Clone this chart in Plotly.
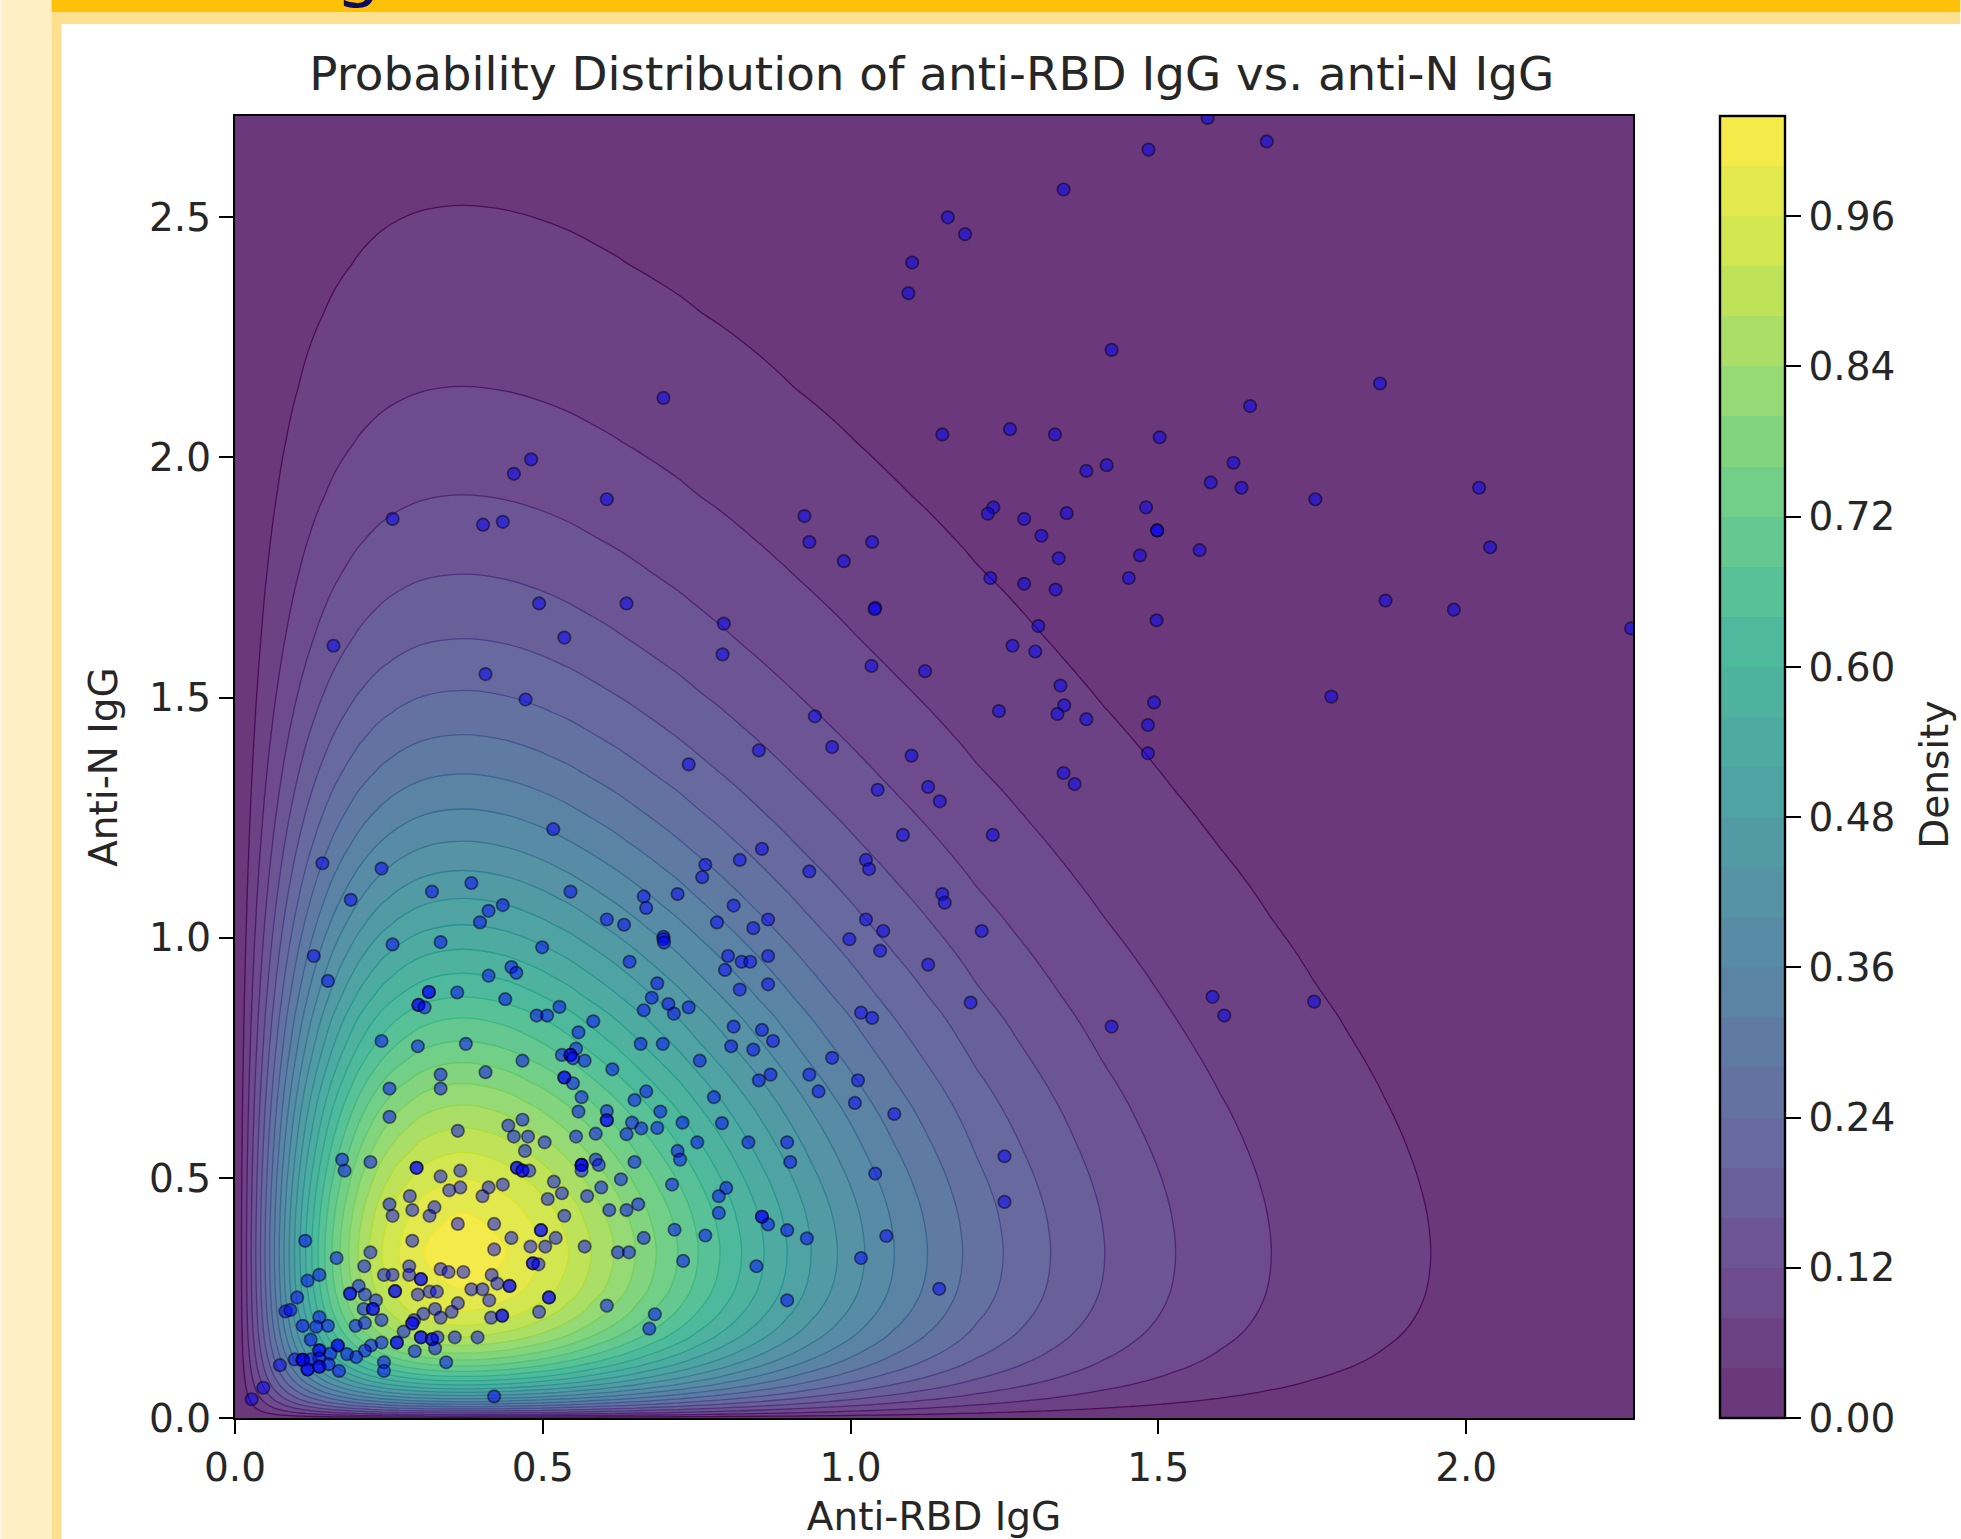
import plotly.graph_objects as go

# Density profile read along the row through the mode (Anti-N = 0.34): x position, density
profile_x = [0.0, 0.0105, 0.0187, 0.0264, 0.0339, 0.0414, 0.0488, 0.0564, 0.064, 0.0719, 0.0797, 0.0881, 0.0966,
             0.1055, 0.1147, 0.1247, 0.135, 0.146, 0.1576, 0.1707, 0.185, 0.2, 0.218, 0.2387, 0.2664, 0.307, 0.37,
             0.44, 0.4977, 0.542, 0.579, 0.616, 0.6505, 0.6845, 0.7197, 0.7526, 0.788, 0.823, 0.8595, 0.897,
             0.936, 0.9787, 1.023, 1.071, 1.125, 1.182, 1.205, 1.248, 1.28, 1.325, 1.365, 1.413, 1.465, 1.528, 1.6,
             1.6835, 1.75, 1.8, 1.87, 1.9425, 2.0, 2.1, 2.28]
profile_x_density = [0.0, 0.04, 0.08, 0.12, 0.16, 0.20, 0.24, 0.28, 0.32, 0.36, 0.40, 0.44, 0.48, 0.52, 0.56, 0.60,
                     0.64, 0.68, 0.72, 0.76, 0.80, 0.84, 0.88, 0.92, 0.96, 1.00, 1.02, 1.00, 0.96, 0.92, 0.88, 0.84,
                     0.80, 0.76, 0.72, 0.68, 0.64, 0.60, 0.56, 0.52, 0.48, 0.44, 0.40, 0.36, 0.32, 0.28, 0.264, 0.24,
                     0.2226, 0.20, 0.181, 0.16, 0.141, 0.12, 0.0997, 0.08, 0.067, 0.059, 0.049, 0.04, 0.034, 0.026, 0.016]
# Density profile read along the column through the mode (Anti-RBD = 0.37): y position, density
profile_y = [0.0, 0.0016, 0.0041, 0.0072, 0.0107, 0.0147, 0.019, 0.0237, 0.0288, 0.0343, 0.0401, 0.0465, 0.0535,
             0.0608, 0.0686, 0.0772, 0.0866, 0.0969, 0.108, 0.1207, 0.1348, 0.151, 0.169, 0.1924, 0.2225, 0.269,
             0.343, 0.427, 0.4975, 0.553, 0.604, 0.652, 0.6965, 0.74, 0.785, 0.833, 0.877, 0.926, 0.976, 1.027,
             1.082, 1.14, 1.201, 1.268, 1.341, 1.38, 1.423, 1.47, 1.515, 1.57, 1.623, 1.69, 1.757, 1.83, 1.922, 2.03,
             2.148, 2.3, 2.4, 2.525, 2.62, 2.72]
profile_y_density = [0.0, 0.04, 0.08, 0.12, 0.16, 0.20, 0.24, 0.28, 0.32, 0.36, 0.40, 0.44, 0.48, 0.52, 0.56, 0.60,
                     0.64, 0.68, 0.72, 0.76, 0.80, 0.84, 0.88, 0.92, 0.96, 1.00, 1.02, 1.00, 0.96, 0.92, 0.88, 0.84,
                     0.80, 0.76, 0.72, 0.68, 0.64, 0.60, 0.56, 0.52, 0.48, 0.44, 0.40, 0.36, 0.32, 0.3006, 0.28, 0.259,
                     0.24, 0.2189, 0.20, 0.1794, 0.16, 0.1413, 0.12, 0.0993, 0.08, 0.0607, 0.0504, 0.04, 0.0334, 0.028]
peak_density = 1.02

anti_rbd_upper = [1.10, 1.094, 0.696, 0.481, 0.453, 0.604, 0.256, 0.403, 0.435, 0.925, 0.933, 1.035, 0.989, 1.04, 0.494,
                  0.636, 1.58, 1.484, 1.676, 1.346, 1.158, 1.186, 1.424, 1.86, 1.649, 1.149, 1.259, 1.332, 1.502, 1.383,
                  1.416, 1.622, 1.585, 1.635, 1.755, 2.021, 1.232, 1.223, 1.282, 1.351, 1.48, 1.498, 1.498, 1.31, 1.47,
                  1.567, 1.338, 2.039, 1.227, 1.282, 1.333, 1.452, 1.869, 1.98, 1.039, 0.794, 0.792, 1.305, 1.497, 1.263,
                  1.3, 1.034, 1.121, 1.341, 1.493, 1.347, 1.336, 1.241, 1.383, 1.483, 0.942, 0.851, 0.97, 1.099, 1.483,
                  1.346, 1.364, 1.044, 1.126, 1.145, 1.085, 1.231, 0.856, 0.82, 0.933, 1.025, 1.03, 1.149, 1.153, 0.81,
                  0.866, 0.842, 1.025, 1.053, 0.998, 1.048, 1.213, 0.801, 0.823, 0.837, 0.866, 0.796, 1.126, 0.866, 0.82,
                  1.195, 1.588, 1.781, 2.268, 1.607, 1.753]
anti_n_upper = [2.406, 2.342, 2.124, 1.996, 1.966, 1.913, 1.872, 1.86, 1.866, 1.878, 1.824, 1.824, 1.784, 1.687, 1.696,
                1.696, 2.707, 2.641, 2.658, 2.558, 2.5, 2.465, 2.224, 2.154, 2.107, 2.048, 2.059, 2.048, 2.042, 1.972,
                1.984, 1.989, 1.948, 1.937, 1.913, 1.937, 1.896, 1.883, 1.872, 1.884, 1.896, 1.848, 1.848, 1.837, 1.796,
                1.807, 1.79, 1.813, 1.749, 1.737, 1.725, 1.749, 1.702, 1.683, 1.684, 1.654, 1.59, 1.649, 1.661, 1.608,
                1.596, 1.566, 1.555, 1.525, 1.49, 1.484, 1.466, 1.472, 1.455, 1.443, 1.461, 1.39, 1.397, 1.379, 1.384,
                1.343, 1.32, 1.308, 1.314, 1.284, 1.214, 1.214, 1.185, 1.162, 1.138, 1.162, 1.143, 1.091, 1.073, 1.067,
                1.038, 1.02, 1.038, 1.014, 0.997, 0.973, 1.014, 0.962, 0.95, 0.95, 0.962, 0.933, 0.944, 0.903, 0.892,
                0.865, 0.877, 1.502, 1.644, 0.838, 0.867]

anti_rbd_right = [1.017, 1.035, 1.424, 0.81, 0.856, 0.874, 0.806, 0.842, 0.97, 0.933, 0.87, 0.851, 1.012, 0.948, 1.007,
                  1.071, 0.791, 0.897, 0.834, 0.902, 1.25, 1.04, 0.798, 1.25, 0.856, 0.856, 0.866, 0.897, 0.929, 1.058,
                  1.017, 0.847, 1.144, 0.897, 0.786, 0.786]
anti_n_right = [0.844, 0.833, 0.815, 0.815, 0.808, 0.785, 0.774, 0.767, 0.75, 0.715, 0.715, 0.703, 0.703, 0.68, 0.656,
                0.633, 0.614, 0.574, 0.574, 0.533, 0.545, 0.509, 0.479, 0.45, 0.419, 0.419, 0.403, 0.391, 0.374, 0.379,
                0.333, 0.316, 0.269, 0.245, 0.462, 0.427]

anti_rbd_middle = [0.535, 0.16, 0.407, 0.472, 0.737, 0.517, 0.142, 0.238, 0.764, 0.759, 0.32, 0.384, 0.545, 0.719, 0.664,
                   0.668, 0.188, 0.435, 0.412, 0.398, 0.604, 0.632, 0.783, 0.696, 0.696, 0.697, 0.256, 0.334, 0.499,
                   0.128, 0.641, 0.449, 0.457, 0.151, 0.412, 0.686, 0.315, 0.315, 0.361, 0.677, 0.439]
anti_n_middle = [1.625, 1.608, 1.549, 1.496, 1.361, 1.226, 1.155, 1.144, 1.152, 1.126, 1.096, 1.114, 1.096, 1.091, 1.086,
                 1.062, 1.079, 1.068, 1.056, 1.032, 1.038, 1.027, 1.032, 1.002, 0.997, 0.99, 0.986, 0.991, 0.98, 0.962,
                 0.95, 0.939, 0.927, 0.91, 0.921, 0.905, 0.887, 0.887, 0.886, 0.875, 0.872]

anti_rbd_lower = [0.298, 0.298, 0.308, 0.527, 0.49, 0.507, 0.582, 0.664, 0.704, 0.713, 0.737, 0.558, 0.238, 0.297, 0.375,
                  0.554, 0.531, 0.545, 0.545, 0.549, 0.568, 0.467, 0.659, 0.695, 0.755, 0.613, 0.334, 0.407, 0.535, 0.535,
                  0.549, 0.251, 0.334, 0.668, 0.649, 0.563, 0.778, 0.558, 0.691, 0.604, 0.604, 0.604, 0.251, 0.467, 0.444,
                  0.645, 0.66, 0.686, 0.727, 0.362, 0.586, 0.453, 0.476, 0.554, 0.636, 0.503, 0.751, 0.471, 0.719, 0.723,
                  0.174, 0.22, 0.178, 0.649, 0.586, 0.591, 0.563, 0.563, 0.563, 0.563, 0.295, 0.295, 0.366, 0.334, 0.458,
                  0.458, 0.467, 0.467, 0.478, 0.518, 0.435, 0.366, 0.348, 0.412, 0.402, 0.284, 0.627, 0.595, 0.531, 0.572,
                  0.71, 0.251, 0.508, 0.324, 0.608, 0.636, 0.655, 0.288, 0.256, 0.316, 0.535, 0.362, 0.421, 0.497, 0.497,
                  0.714, 0.114, 0.288, 0.449, 0.521, 0.664, 0.764, 0.48, 0.504, 0.568, 0.421, 0.22, 0.165, 0.622, 0.64,
                  0.728, 0.21, 0.283, 0.484, 0.484, 0.493, 0.334, 0.347, 0.371, 0.417, 0.242, 0.256, 0.283, 0.137, 0.118,
                  0.426, 0.302, 0.302, 0.446, 0.446, 0.201, 0.26, 0.26, 0.187, 0.187, 0.211, 0.297, 0.316, 0.328, 0.384,
                  0.402, 0.101, 0.51, 0.51, 0.413, 0.362, 0.229, 0.604, 0.209, 0.224, 0.224, 0.325, 0.352, 0.082, 0.09,
                  0.306, 0.334, 0.416, 0.434, 0.434, 0.494, 0.682, 0.137, 0.238, 0.291, 0.288, 0.288, 0.11, 0.132, 0.151,
                  0.196, 0.211, 0.673, 0.274, 0.123, 0.357, 0.394, 0.302, 0.302, 0.32, 0.32, 0.329, 0.263, 0.263, 0.238,
                  0.167, 0.167, 0.221, 0.211, 0.137, 0.137, 0.292, 0.325, 0.155, 0.182, 0.197, 0.097, 0.11, 0.11, 0.11,
                  0.123, 0.137, 0.073, 0.343, 0.242, 0.118, 0.118, 0.137, 0.137, 0.152, 0.169, 0.242, 0.046, 0.027, 0.421]
anti_n_lower = [0.86, 0.86, 0.855, 0.856, 0.838, 0.838, 0.826, 0.849, 0.862, 0.842, 0.855, 0.803, 0.785, 0.774, 0.779,
                0.769, 0.756, 0.756, 0.756, 0.749, 0.744, 0.744, 0.779, 0.779, 0.744, 0.726, 0.715, 0.72, 0.709, 0.709,
                0.697, 0.686, 0.686, 0.68, 0.662, 0.668, 0.668, 0.638, 0.638, 0.639, 0.62, 0.62, 0.627, 0.621, 0.609,
                0.615, 0.603, 0.604, 0.615, 0.598, 0.592, 0.586, 0.586, 0.586, 0.591, 0.574, 0.574, 0.556, 0.556, 0.538,
                0.538, 0.533, 0.515, 0.533, 0.538, 0.527, 0.527, 0.527, 0.527, 0.515, 0.521, 0.521, 0.515, 0.503, 0.521,
                0.521, 0.515, 0.515, 0.515, 0.492, 0.486, 0.48, 0.474, 0.48, 0.462, 0.462, 0.497, 0.48, 0.468, 0.462,
                0.486, 0.445, 0.456, 0.439, 0.433, 0.433, 0.445, 0.433, 0.421, 0.421, 0.421, 0.404, 0.404, 0.391, 0.391,
                0.392, 0.369, 0.369, 0.375, 0.375, 0.375, 0.38, 0.357, 0.357, 0.357, 0.351, 0.345, 0.333, 0.345, 0.345,
                0.327, 0.316, 0.316, 0.322, 0.322, 0.32, 0.31, 0.304, 0.304, 0.298, 0.298, 0.298, 0.298, 0.298, 0.286,
                0.28, 0.289, 0.289, 0.275, 0.275, 0.275, 0.264, 0.264, 0.259, 0.259, 0.257, 0.257, 0.263, 0.263, 0.268,
                0.268, 0.251, 0.251, 0.251, 0.245, 0.239, 0.245, 0.234, 0.227, 0.227, 0.227, 0.227, 0.221, 0.222, 0.225,
                0.217, 0.209, 0.209, 0.213, 0.213, 0.221, 0.216, 0.21, 0.204, 0.204, 0.197, 0.197, 0.192, 0.19, 0.192,
                0.192, 0.198, 0.186, 0.18, 0.163, 0.168, 0.168, 0.168, 0.168, 0.164, 0.164, 0.168, 0.157, 0.157, 0.157,
                0.151, 0.151, 0.151, 0.14, 0.141, 0.141, 0.139, 0.145, 0.134, 0.133, 0.127, 0.122, 0.121, 0.121, 0.121,
                0.122, 0.124, 0.11, 0.116, 0.116, 0.101, 0.101, 0.107, 0.107, 0.112, 0.098, 0.098, 0.063, 0.039, 0.045]

anti_rbd_igg = anti_rbd_upper + anti_rbd_right + anti_rbd_middle + anti_rbd_lower
anti_n_igg = anti_n_upper + anti_n_right + anti_n_middle + anti_n_lower

x_tick_values = [0.0, 0.5, 1.0, 1.5, 2.0]
y_tick_values = [0.0, 0.5, 1.0, 1.5, 2.0, 2.5]
density_ticks = [0.00, 0.12, 0.24, 0.36, 0.48, 0.60, 0.72, 0.84, 0.96]
viridis_stops = ["#440154", "#482475", "#414487", "#355f8d", "#2a788e", "#21918c",
                 "#22a884", "#44bf70", "#7ad151", "#bddf26", "#fde725"]
fill_stops = ["#46075a"] + viridis_stops[1:-1] + ["#f1e51d"]

density = [[gx * hy / peak_density for gx in profile_x_density] for hy in profile_y_density]


def over_white(hex_color, alpha=0.8):
    parts = [int(hex_color[i:i + 2], 16) for i in (1, 3, 5)]
    return "rgb(%d,%d,%d)" % tuple(round(alpha * p + (1 - alpha) * 255) for p in parts)


n_stops = len(viridis_stops) - 1
fill_scale = [[i / n_stops, over_white(c)] for i, c in enumerate(fill_stops)]
line_scale = [[i / n_stops, c] for i, c in enumerate(viridis_stops)]

W, H = 1961, 1539
L, R, T, B = 234.5, 1633.5, 116, 1418
TEXT = "#262626"
FONT = "DejaVu Sans"
TICK_SIZE = 39


def px(v):
    return (v - L) / (R - L)


def py(v):
    return (B - v) / (B - T)


fig = go.Figure()
levels = dict(start=0.04, end=1.0, size=0.04)
fig.add_trace(go.Contour(
    x=profile_x, y=profile_y, z=density, zmin=0, zmax=1.04, zauto=False,
    colorscale=fill_scale, autocontour=False,
    contours=dict(coloring="fill", showlines=False, **levels),
    line=dict(width=0, smoothing=1),
    hoverinfo="skip",
    colorbar=dict(
        x=px(1721), xanchor="left", xpad=0, y=0, yanchor="bottom", ypad=0,
        lenmode="pixels", len=B - T, thicknessmode="pixels", thickness=65,
        outlinewidth=2.4, outlinecolor="black",
        tickmode="array", tickvals=density_ticks, tickformat=".2f",
        tickprefix='<span style="font-size:16px">\u00a0</span>',
        ticks="outside", ticklen=15, tickwidth=2.2, tickcolor="black",
        tickfont=dict(family=FONT, size=TICK_SIZE, color=TEXT),
    ),
))
fig.add_trace(go.Contour(
    x=profile_x, y=profile_y, z=density, zmin=0, zmax=1.04, zauto=False,
    colorscale=line_scale, autocontour=False, showscale=False, opacity=0.8,
    contours=dict(coloring="lines", **levels),
    line=dict(width=1.3, smoothing=1),
    hoverinfo="skip",
))
fig.add_trace(go.Scatter(
    x=anti_rbd_igg, y=anti_n_igg, mode="markers", showlegend=False,
    marker=dict(size=12.5, color="rgba(0,0,255,0.5)", line=dict(color="rgba(0,0,0,0.5)", width=1.7)),
))

axis_style = dict(
    showgrid=False, zeroline=False, showline=True, mirror=True, linecolor="black", linewidth=2.4,
    ticks="outside", ticklen=14, tickwidth=2.2, tickcolor="black", tickformat=".1f",
    tickfont=dict(family=FONT, size=TICK_SIZE, color=TEXT),
)
fig.update_xaxes(range=[0, 2.271], tickvals=x_tick_values,
                 title=dict(text="Anti-RBD IgG", font=dict(family=FONT, size=TICK_SIZE, color=TEXT), standoff=21), **axis_style)
fig.update_yaxes(range=[0, 2.711], tickvals=y_tick_values,
                 title=dict(text="Anti-N IgG", font=dict(family=FONT, size=TICK_SIZE, color=TEXT), standoff=19), **axis_style)


def rect(x0, y0, x1, y1, color):
    return dict(type="rect", xref="paper", yref="paper", layer="below", line=dict(width=0), fillcolor=color,
                x0=px(x0), x1=px(x1), y0=py(y0), y1=py(y1))


fig.update_layout(
    width=W, height=H, autosize=False,
    margin=dict(l=L, r=W - R, t=T, b=H - B, pad=0, autoexpand=False),
    paper_bgcolor="white", plot_bgcolor="white",
    title=dict(text="Probability Distribution of anti-RBD IgG vs. anti-N IgG",
               font=dict(family=FONT, size=46.8, color=TEXT), x=(248 + 1242) / 2 * 1.2506 / W, xanchor="center",
               y=1 - 74 / H, yanchor="middle"),
    shapes=[
        rect(0, 0, 51, H, "#FFEFC4"),
        rect(51, 0, 61, H, "#FFE08F"),
        rect(51, 0, W, 24, "#FFE08F"),
        rect(51, 0, W, 12, "#FFC107"),
    ],
    annotations=[
        dict(text="g", xref="paper", yref="paper", x=px(358), y=py(14), xanchor="center", yanchor="bottom",
             showarrow=False, font=dict(family="Noto Sans", size=70, color="#0B0B60")),
        dict(text="Density", xref="paper", yref="paper", x=px(1934.5), y=py(775), xanchor="center", yanchor="middle",
             textangle=-90, showarrow=False, font=dict(family=FONT, size=TICK_SIZE, color=TEXT)),
    ],
)

fig.write_html("out.html", config={"displayModeBar": False},
               post_script="document.body.style.margin='0';document.documentElement.style.overflow='hidden';")
